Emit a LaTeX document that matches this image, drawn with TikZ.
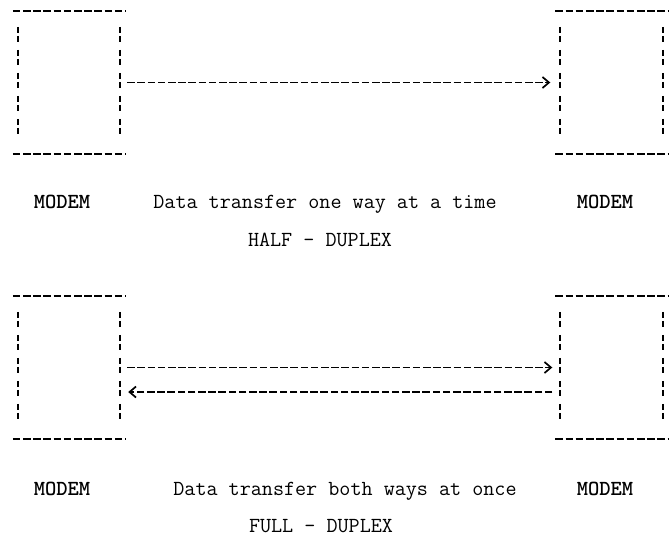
\documentclass[tikz,border=0pt]{standalone}
\usetikzlibrary{arrows.meta}

\begin{document}
\begin{tikzpicture}[x=1pt,y=-1pt,
    modem/.style={minimum width=112pt,minimum height=143pt,inner sep=0pt},
    hdash/.style={line width=1.9pt,dash pattern=on 7.6pt off 2.6pt},
    vdash/.style={line width=1.9pt,dash pattern=on 6pt off 3pt on 6pt off 8pt},
    flow/.style={hdash,-{Straight Barb[length=6.5pt,width=11pt,line width=1.7pt]}},
    txt/.style={inner sep=0pt,anchor=base,font=\fontsize{21.5}{24}\selectfont\ttfamily}]
        \useasboundingbox (0,0) rectangle (672,544);
        % the four modems
        \node[modem] (mA) at (69,82.5) {};
        \node[modem] (mB) at (611.5,82.5) {};
        \node[modem] (mC) at (69,367.5) {};
        \node[modem] (mD) at (611.5,367.5) {};
        \foreach \m in {mA,mB,mC,mD} {
            \draw[hdash] (\m.north west) -- (\m.north east);
            \draw[hdash] (\m.south west) -- (\m.south east);
            \draw[vdash] ([xshift=5pt,yshift=-16pt]\m.north west) -- ([xshift=5pt,yshift=17pt]\m.south west);
            \draw[vdash] ([xshift=-5pt,yshift=-16pt]\m.north east) -- ([xshift=-5pt,yshift=17pt]\m.south east);
        }
        % half duplex
        \draw[flow] ([xshift=2pt]mA.east) -- ([xshift=-5pt]mB.west);
        % full duplex
        \draw[flow] ([xshift=2pt]mC.east) -- ([xshift=-3pt]mD.west);
        \draw[flow] ([xshift=-3pt,yshift=-24.5pt]mD.west) -- ([xshift=3pt,yshift=-24.5pt]mC.east);
        % labels
        \node[txt,font=\fontsize{21.5}{24}\selectfont\ttfamily\bfseries] (lblA) at (62,208) {MODEM};
        \node[txt] (txtHalf) at (325,208) {Data transfer one way at a time};
        \node[txt,font=\fontsize{21.5}{24}\selectfont\ttfamily\bfseries] (lblB) at (605,208) {MODEM};
        \node[txt] (modeHalf) at (320,246) {HALF - DUPLEX};
        \node[txt,font=\fontsize{21.5}{24}\selectfont\ttfamily\bfseries] (lblC) at (62,495) {MODEM};
        \node[txt] (txtFull) at (345,495) {Data transfer both ways at once};
        \node[txt,font=\fontsize{21.5}{24}\selectfont\ttfamily\bfseries] (lblD) at (605,495) {MODEM};
        \node[txt] (modeFull) at (321,532) {FULL - DUPLEX};
    \end{tikzpicture}
\end{document}
